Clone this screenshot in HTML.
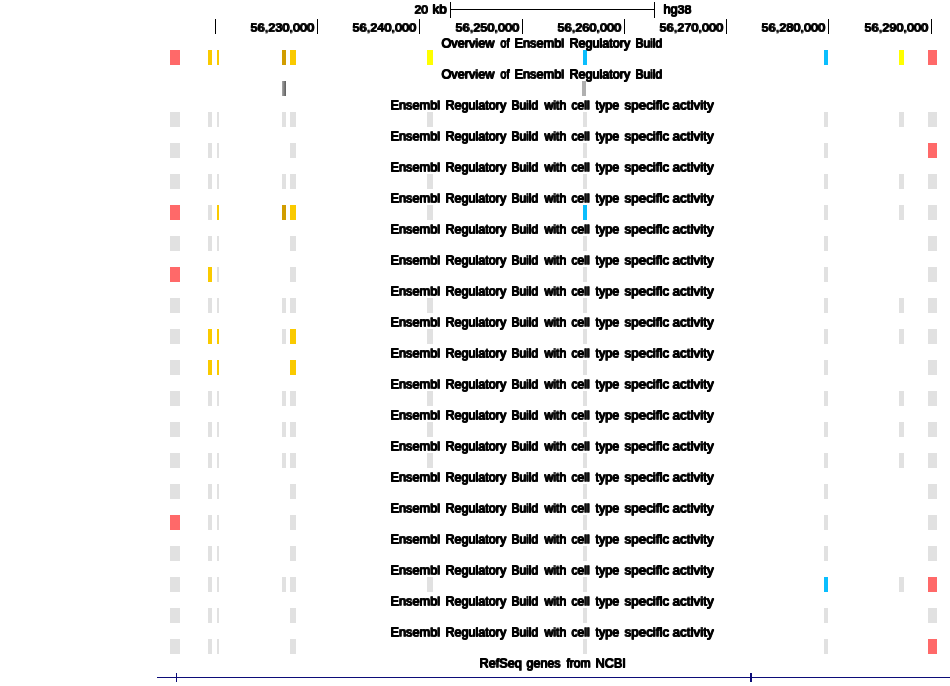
<!DOCTYPE html>
<html><head><meta charset="utf-8"><title>track</title>
<style>
html,body{margin:0;padding:0;background:#fff;}
body{width:950px;height:686px;position:relative;overflow:hidden;font-family:"Liberation Sans",sans-serif;color:#000;}
.b{position:absolute;height:15px;}
.w{position:absolute;white-space:nowrap;line-height:20px;height:20px;transform-origin:0 0;font-weight:normal;text-shadow:1.0px 0 0 #000,0 -1.0px 0 #000,1.0px -1.0px 0 #000;filter:grayscale(1);}
.k{position:absolute;width:1px;background:#000;}
.h{position:absolute;height:1px;background:#000;}

</style></head><body>
<div class="b" style="left:170px;width:10px;top:50px;background:#ff6969"></div>
<div class="b" style="left:208px;width:4px;top:50px;background:#faca00"></div>
<div class="b" style="left:217px;width:2px;top:50px;background:#faca00"></div>
<div class="b" style="left:282px;width:4px;top:50px;background:#d19d00"></div>
<div class="b" style="left:290px;width:6px;top:50px;background:#faca00"></div>
<div class="b" style="left:427px;width:6px;top:50px;background:#ffff00"></div>
<div class="b" style="left:583px;width:4px;top:50px;background:#0abefe"></div>
<div class="b" style="left:824px;width:4px;top:50px;background:#0abefe"></div>
<div class="b" style="left:899px;width:5px;top:50px;background:#ffff00"></div>
<div class="b" style="left:928px;width:9px;top:50px;background:#ff6969"></div>
<div class="b" style="left:282px;width:4px;top:81px;background:linear-gradient(90deg,#a8a8a8,#5c5c5c)"></div>
<div class="b" style="left:582px;width:4px;top:81px;background:#b0b0b0"></div>
<div class="b" style="left:170px;width:10px;top:112px;background:#e1e1e1"></div>
<div class="b" style="left:208px;width:4px;top:112px;background:#e1e1e1"></div>
<div class="b" style="left:217px;width:2px;top:112px;background:#e1e1e1"></div>
<div class="b" style="left:282px;width:4px;top:112px;background:#e1e1e1"></div>
<div class="b" style="left:290px;width:6px;top:112px;background:#e1e1e1"></div>
<div class="b" style="left:427px;width:6px;top:112px;background:#e1e1e1"></div>
<div class="b" style="left:583px;width:4px;top:112px;background:#e1e1e1"></div>
<div class="b" style="left:824px;width:4px;top:112px;background:#e1e1e1"></div>
<div class="b" style="left:899px;width:5px;top:112px;background:#e1e1e1"></div>
<div class="b" style="left:928px;width:9px;top:112px;background:#e1e1e1"></div>
<div class="b" style="left:170px;width:10px;top:143px;background:#e1e1e1"></div>
<div class="b" style="left:208px;width:4px;top:143px;background:#e1e1e1"></div>
<div class="b" style="left:217px;width:2px;top:143px;background:#e1e1e1"></div>
<div class="b" style="left:290px;width:6px;top:143px;background:#e1e1e1"></div>
<div class="b" style="left:583px;width:4px;top:143px;background:#e1e1e1"></div>
<div class="b" style="left:824px;width:4px;top:143px;background:#e1e1e1"></div>
<div class="b" style="left:928px;width:9px;top:143px;background:#ff6969"></div>
<div class="b" style="left:170px;width:10px;top:174px;background:#e1e1e1"></div>
<div class="b" style="left:208px;width:4px;top:174px;background:#e1e1e1"></div>
<div class="b" style="left:217px;width:2px;top:174px;background:#e1e1e1"></div>
<div class="b" style="left:282px;width:4px;top:174px;background:#e1e1e1"></div>
<div class="b" style="left:290px;width:6px;top:174px;background:#e1e1e1"></div>
<div class="b" style="left:427px;width:6px;top:174px;background:#e1e1e1"></div>
<div class="b" style="left:583px;width:4px;top:174px;background:#e1e1e1"></div>
<div class="b" style="left:824px;width:4px;top:174px;background:#e1e1e1"></div>
<div class="b" style="left:899px;width:5px;top:174px;background:#e1e1e1"></div>
<div class="b" style="left:928px;width:9px;top:174px;background:#e1e1e1"></div>
<div class="b" style="left:170px;width:10px;top:205px;background:#ff6969"></div>
<div class="b" style="left:208px;width:4px;top:205px;background:#e1e1e1"></div>
<div class="b" style="left:217px;width:2px;top:205px;background:#faca00"></div>
<div class="b" style="left:282px;width:4px;top:205px;background:#d19d00"></div>
<div class="b" style="left:290px;width:6px;top:205px;background:#faca00"></div>
<div class="b" style="left:427px;width:6px;top:205px;background:#e1e1e1"></div>
<div class="b" style="left:583px;width:4px;top:205px;background:#0abefe"></div>
<div class="b" style="left:824px;width:4px;top:205px;background:#e1e1e1"></div>
<div class="b" style="left:899px;width:5px;top:205px;background:#e1e1e1"></div>
<div class="b" style="left:928px;width:9px;top:205px;background:#e1e1e1"></div>
<div class="b" style="left:170px;width:10px;top:236px;background:#e1e1e1"></div>
<div class="b" style="left:208px;width:4px;top:236px;background:#e1e1e1"></div>
<div class="b" style="left:217px;width:2px;top:236px;background:#e1e1e1"></div>
<div class="b" style="left:290px;width:6px;top:236px;background:#e1e1e1"></div>
<div class="b" style="left:583px;width:4px;top:236px;background:#e1e1e1"></div>
<div class="b" style="left:824px;width:4px;top:236px;background:#e1e1e1"></div>
<div class="b" style="left:928px;width:9px;top:236px;background:#e1e1e1"></div>
<div class="b" style="left:170px;width:10px;top:267px;background:#ff6969"></div>
<div class="b" style="left:208px;width:4px;top:267px;background:#faca00"></div>
<div class="b" style="left:217px;width:2px;top:267px;background:#e1e1e1"></div>
<div class="b" style="left:290px;width:6px;top:267px;background:#e1e1e1"></div>
<div class="b" style="left:583px;width:4px;top:267px;background:#e1e1e1"></div>
<div class="b" style="left:824px;width:4px;top:267px;background:#e1e1e1"></div>
<div class="b" style="left:928px;width:9px;top:267px;background:#e1e1e1"></div>
<div class="b" style="left:170px;width:10px;top:298px;background:#e1e1e1"></div>
<div class="b" style="left:208px;width:4px;top:298px;background:#e1e1e1"></div>
<div class="b" style="left:217px;width:2px;top:298px;background:#e1e1e1"></div>
<div class="b" style="left:282px;width:4px;top:298px;background:#e1e1e1"></div>
<div class="b" style="left:290px;width:6px;top:298px;background:#e1e1e1"></div>
<div class="b" style="left:427px;width:6px;top:298px;background:#e1e1e1"></div>
<div class="b" style="left:583px;width:4px;top:298px;background:#e1e1e1"></div>
<div class="b" style="left:824px;width:4px;top:298px;background:#e1e1e1"></div>
<div class="b" style="left:899px;width:5px;top:298px;background:#e1e1e1"></div>
<div class="b" style="left:928px;width:9px;top:298px;background:#e1e1e1"></div>
<div class="b" style="left:170px;width:10px;top:329px;background:#e1e1e1"></div>
<div class="b" style="left:208px;width:4px;top:329px;background:#faca00"></div>
<div class="b" style="left:217px;width:2px;top:329px;background:#faca00"></div>
<div class="b" style="left:282px;width:4px;top:329px;background:#e1e1e1"></div>
<div class="b" style="left:290px;width:6px;top:329px;background:#faca00"></div>
<div class="b" style="left:427px;width:6px;top:329px;background:#e1e1e1"></div>
<div class="b" style="left:583px;width:4px;top:329px;background:#e1e1e1"></div>
<div class="b" style="left:824px;width:4px;top:329px;background:#e1e1e1"></div>
<div class="b" style="left:899px;width:5px;top:329px;background:#e1e1e1"></div>
<div class="b" style="left:928px;width:9px;top:329px;background:#e1e1e1"></div>
<div class="b" style="left:170px;width:10px;top:360px;background:#e1e1e1"></div>
<div class="b" style="left:208px;width:4px;top:360px;background:#faca00"></div>
<div class="b" style="left:217px;width:2px;top:360px;background:#faca00"></div>
<div class="b" style="left:290px;width:6px;top:360px;background:#faca00"></div>
<div class="b" style="left:583px;width:4px;top:360px;background:#e1e1e1"></div>
<div class="b" style="left:824px;width:4px;top:360px;background:#e1e1e1"></div>
<div class="b" style="left:928px;width:9px;top:360px;background:#e1e1e1"></div>
<div class="b" style="left:170px;width:10px;top:391px;background:#e1e1e1"></div>
<div class="b" style="left:208px;width:4px;top:391px;background:#e1e1e1"></div>
<div class="b" style="left:217px;width:2px;top:391px;background:#e1e1e1"></div>
<div class="b" style="left:282px;width:4px;top:391px;background:#e1e1e1"></div>
<div class="b" style="left:290px;width:6px;top:391px;background:#e1e1e1"></div>
<div class="b" style="left:427px;width:6px;top:391px;background:#e1e1e1"></div>
<div class="b" style="left:583px;width:4px;top:391px;background:#e1e1e1"></div>
<div class="b" style="left:824px;width:4px;top:391px;background:#e1e1e1"></div>
<div class="b" style="left:899px;width:5px;top:391px;background:#e1e1e1"></div>
<div class="b" style="left:928px;width:9px;top:391px;background:#e1e1e1"></div>
<div class="b" style="left:170px;width:10px;top:422px;background:#e1e1e1"></div>
<div class="b" style="left:208px;width:4px;top:422px;background:#e1e1e1"></div>
<div class="b" style="left:217px;width:2px;top:422px;background:#e1e1e1"></div>
<div class="b" style="left:282px;width:4px;top:422px;background:#e1e1e1"></div>
<div class="b" style="left:290px;width:6px;top:422px;background:#e1e1e1"></div>
<div class="b" style="left:427px;width:6px;top:422px;background:#e1e1e1"></div>
<div class="b" style="left:583px;width:4px;top:422px;background:#e1e1e1"></div>
<div class="b" style="left:824px;width:4px;top:422px;background:#e1e1e1"></div>
<div class="b" style="left:899px;width:5px;top:422px;background:#e1e1e1"></div>
<div class="b" style="left:928px;width:9px;top:422px;background:#e1e1e1"></div>
<div class="b" style="left:170px;width:10px;top:453px;background:#e1e1e1"></div>
<div class="b" style="left:208px;width:4px;top:453px;background:#e1e1e1"></div>
<div class="b" style="left:217px;width:2px;top:453px;background:#e1e1e1"></div>
<div class="b" style="left:282px;width:4px;top:453px;background:#e1e1e1"></div>
<div class="b" style="left:290px;width:6px;top:453px;background:#e1e1e1"></div>
<div class="b" style="left:427px;width:6px;top:453px;background:#e1e1e1"></div>
<div class="b" style="left:583px;width:4px;top:453px;background:#e1e1e1"></div>
<div class="b" style="left:824px;width:4px;top:453px;background:#e1e1e1"></div>
<div class="b" style="left:899px;width:5px;top:453px;background:#e1e1e1"></div>
<div class="b" style="left:928px;width:9px;top:453px;background:#e1e1e1"></div>
<div class="b" style="left:170px;width:10px;top:484px;background:#e1e1e1"></div>
<div class="b" style="left:208px;width:4px;top:484px;background:#e1e1e1"></div>
<div class="b" style="left:217px;width:2px;top:484px;background:#e1e1e1"></div>
<div class="b" style="left:290px;width:6px;top:484px;background:#e1e1e1"></div>
<div class="b" style="left:583px;width:4px;top:484px;background:#e1e1e1"></div>
<div class="b" style="left:824px;width:4px;top:484px;background:#e1e1e1"></div>
<div class="b" style="left:928px;width:9px;top:484px;background:#e1e1e1"></div>
<div class="b" style="left:170px;width:10px;top:515px;background:#ff6969"></div>
<div class="b" style="left:208px;width:4px;top:515px;background:#e1e1e1"></div>
<div class="b" style="left:217px;width:2px;top:515px;background:#e1e1e1"></div>
<div class="b" style="left:290px;width:6px;top:515px;background:#e1e1e1"></div>
<div class="b" style="left:583px;width:4px;top:515px;background:#e1e1e1"></div>
<div class="b" style="left:824px;width:4px;top:515px;background:#e1e1e1"></div>
<div class="b" style="left:928px;width:9px;top:515px;background:#e1e1e1"></div>
<div class="b" style="left:170px;width:10px;top:546px;background:#e1e1e1"></div>
<div class="b" style="left:208px;width:4px;top:546px;background:#e1e1e1"></div>
<div class="b" style="left:217px;width:2px;top:546px;background:#e1e1e1"></div>
<div class="b" style="left:290px;width:6px;top:546px;background:#e1e1e1"></div>
<div class="b" style="left:583px;width:4px;top:546px;background:#e1e1e1"></div>
<div class="b" style="left:824px;width:4px;top:546px;background:#e1e1e1"></div>
<div class="b" style="left:928px;width:9px;top:546px;background:#e1e1e1"></div>
<div class="b" style="left:170px;width:10px;top:577px;background:#e1e1e1"></div>
<div class="b" style="left:208px;width:4px;top:577px;background:#e1e1e1"></div>
<div class="b" style="left:217px;width:2px;top:577px;background:#e1e1e1"></div>
<div class="b" style="left:282px;width:4px;top:577px;background:#e1e1e1"></div>
<div class="b" style="left:290px;width:6px;top:577px;background:#e1e1e1"></div>
<div class="b" style="left:427px;width:6px;top:577px;background:#e1e1e1"></div>
<div class="b" style="left:583px;width:4px;top:577px;background:#e1e1e1"></div>
<div class="b" style="left:824px;width:4px;top:577px;background:#0abefe"></div>
<div class="b" style="left:899px;width:5px;top:577px;background:#e1e1e1"></div>
<div class="b" style="left:928px;width:9px;top:577px;background:#ff6969"></div>
<div class="b" style="left:170px;width:10px;top:608px;background:#e1e1e1"></div>
<div class="b" style="left:208px;width:4px;top:608px;background:#e1e1e1"></div>
<div class="b" style="left:217px;width:2px;top:608px;background:#e1e1e1"></div>
<div class="b" style="left:290px;width:6px;top:608px;background:#e1e1e1"></div>
<div class="b" style="left:583px;width:4px;top:608px;background:#e1e1e1"></div>
<div class="b" style="left:824px;width:4px;top:608px;background:#e1e1e1"></div>
<div class="b" style="left:928px;width:9px;top:608px;background:#e1e1e1"></div>
<div class="b" style="left:170px;width:10px;top:639px;background:#e1e1e1"></div>
<div class="b" style="left:208px;width:4px;top:639px;background:#e1e1e1"></div>
<div class="b" style="left:217px;width:2px;top:639px;background:#e1e1e1"></div>
<div class="b" style="left:290px;width:6px;top:639px;background:#e1e1e1"></div>
<div class="b" style="left:583px;width:4px;top:639px;background:#e1e1e1"></div>
<div class="b" style="left:824px;width:4px;top:639px;background:#e1e1e1"></div>
<div class="b" style="left:928px;width:9px;top:639px;background:#ff6969"></div>
<div class="k" style="left:450px;top:2px;height:16px"></div>
<div class="k" style="left:654px;top:2px;height:16px"></div>
<div class="h" style="left:450px;top:9px;width:205px"></div>
<div class="k" style="left:215px;top:19px;height:15px"></div>
<div class="k" style="left:317px;top:19px;height:15px"></div>
<div class="k" style="left:419px;top:19px;height:15px"></div>
<div class="k" style="left:522px;top:19px;height:15px"></div>
<div class="k" style="left:624px;top:19px;height:15px"></div>
<div class="k" style="left:726px;top:19px;height:15px"></div>
<div class="k" style="left:828px;top:19px;height:15px"></div>
<div class="k" style="left:931px;top:19px;height:15px"></div>
<div class="h" style="left:157px;top:677px;width:793px;background:#0c0c78"></div>
<div class="k" style="left:176px;top:673px;height:9px;background:#0c0c78"></div>
<div class="k" style="left:750px;top:673px;width:2px;height:9px;background:#0c0c78"></div>
<span class="w" style="left:441.00px;top:34.0px;font-size:13.08px;transform:scaleX(0.9701)">Overview</span>
<span class="w" style="left:499.50px;top:34.0px;font-size:13.08px;transform:scaleX(0.8333)">of</span>
<span class="w" style="left:514.02px;top:34.0px;font-size:13.08px;transform:scaleX(0.9760)">Ensembl</span>
<span class="w" style="left:569.04px;top:34.0px;font-size:13.08px;transform:scaleX(0.9606)">Regulatory</span>
<span class="w" style="left:635.28px;top:34.0px;font-size:13.08px;transform:scaleX(0.9163)">Build</span>
<span class="w" style="left:441.00px;top:65.0px;font-size:13.08px;transform:scaleX(0.9701)">Overview</span>
<span class="w" style="left:499.50px;top:65.0px;font-size:13.08px;transform:scaleX(0.8333)">of</span>
<span class="w" style="left:514.02px;top:65.0px;font-size:13.08px;transform:scaleX(0.9760)">Ensembl</span>
<span class="w" style="left:569.04px;top:65.0px;font-size:13.08px;transform:scaleX(0.9606)">Regulatory</span>
<span class="w" style="left:635.28px;top:65.0px;font-size:13.08px;transform:scaleX(0.9163)">Build</span>
<span class="w" style="left:389.92px;top:96.0px;font-size:13.08px;transform:scaleX(0.9760)">Ensembl</span>
<span class="w" style="left:444.94px;top:96.0px;font-size:13.08px;transform:scaleX(0.9606)">Regulatory</span>
<span class="w" style="left:511.18px;top:96.0px;font-size:13.08px;transform:scaleX(0.9163)">Build</span>
<span class="w" style="left:544.00px;top:96.0px;font-size:13.08px;transform:scaleX(0.9375)">with</span>
<span class="w" style="left:571.20px;top:96.0px;font-size:13.08px;transform:scaleX(0.9250)">cell</span>
<span class="w" style="left:595.30px;top:96.0px;font-size:13.08px;transform:scaleX(0.9577)">type</span>
<span class="w" style="left:623.62px;top:96.0px;font-size:13.08px;transform:scaleX(1.0256)">specific</span>
<span class="w" style="left:672.38px;top:96.0px;font-size:13.08px;transform:scaleX(1.0321)">activity</span>
<span class="w" style="left:389.92px;top:127.0px;font-size:13.08px;transform:scaleX(0.9760)">Ensembl</span>
<span class="w" style="left:444.94px;top:127.0px;font-size:13.08px;transform:scaleX(0.9606)">Regulatory</span>
<span class="w" style="left:511.18px;top:127.0px;font-size:13.08px;transform:scaleX(0.9163)">Build</span>
<span class="w" style="left:544.00px;top:127.0px;font-size:13.08px;transform:scaleX(0.9375)">with</span>
<span class="w" style="left:571.20px;top:127.0px;font-size:13.08px;transform:scaleX(0.9250)">cell</span>
<span class="w" style="left:595.30px;top:127.0px;font-size:13.08px;transform:scaleX(0.9577)">type</span>
<span class="w" style="left:623.62px;top:127.0px;font-size:13.08px;transform:scaleX(1.0256)">specific</span>
<span class="w" style="left:672.38px;top:127.0px;font-size:13.08px;transform:scaleX(1.0321)">activity</span>
<span class="w" style="left:389.92px;top:158.0px;font-size:13.08px;transform:scaleX(0.9760)">Ensembl</span>
<span class="w" style="left:444.94px;top:158.0px;font-size:13.08px;transform:scaleX(0.9606)">Regulatory</span>
<span class="w" style="left:511.18px;top:158.0px;font-size:13.08px;transform:scaleX(0.9163)">Build</span>
<span class="w" style="left:544.00px;top:158.0px;font-size:13.08px;transform:scaleX(0.9375)">with</span>
<span class="w" style="left:571.20px;top:158.0px;font-size:13.08px;transform:scaleX(0.9250)">cell</span>
<span class="w" style="left:595.30px;top:158.0px;font-size:13.08px;transform:scaleX(0.9577)">type</span>
<span class="w" style="left:623.62px;top:158.0px;font-size:13.08px;transform:scaleX(1.0256)">specific</span>
<span class="w" style="left:672.38px;top:158.0px;font-size:13.08px;transform:scaleX(1.0321)">activity</span>
<span class="w" style="left:389.92px;top:189.0px;font-size:13.08px;transform:scaleX(0.9760)">Ensembl</span>
<span class="w" style="left:444.94px;top:189.0px;font-size:13.08px;transform:scaleX(0.9606)">Regulatory</span>
<span class="w" style="left:511.18px;top:189.0px;font-size:13.08px;transform:scaleX(0.9163)">Build</span>
<span class="w" style="left:544.00px;top:189.0px;font-size:13.08px;transform:scaleX(0.9375)">with</span>
<span class="w" style="left:571.20px;top:189.0px;font-size:13.08px;transform:scaleX(0.9250)">cell</span>
<span class="w" style="left:595.30px;top:189.0px;font-size:13.08px;transform:scaleX(0.9577)">type</span>
<span class="w" style="left:623.62px;top:189.0px;font-size:13.08px;transform:scaleX(1.0256)">specific</span>
<span class="w" style="left:672.38px;top:189.0px;font-size:13.08px;transform:scaleX(1.0321)">activity</span>
<span class="w" style="left:389.92px;top:220.0px;font-size:13.08px;transform:scaleX(0.9760)">Ensembl</span>
<span class="w" style="left:444.94px;top:220.0px;font-size:13.08px;transform:scaleX(0.9606)">Regulatory</span>
<span class="w" style="left:511.18px;top:220.0px;font-size:13.08px;transform:scaleX(0.9163)">Build</span>
<span class="w" style="left:544.00px;top:220.0px;font-size:13.08px;transform:scaleX(0.9375)">with</span>
<span class="w" style="left:571.20px;top:220.0px;font-size:13.08px;transform:scaleX(0.9250)">cell</span>
<span class="w" style="left:595.30px;top:220.0px;font-size:13.08px;transform:scaleX(0.9577)">type</span>
<span class="w" style="left:623.62px;top:220.0px;font-size:13.08px;transform:scaleX(1.0256)">specific</span>
<span class="w" style="left:672.38px;top:220.0px;font-size:13.08px;transform:scaleX(1.0321)">activity</span>
<span class="w" style="left:389.92px;top:251.0px;font-size:13.08px;transform:scaleX(0.9760)">Ensembl</span>
<span class="w" style="left:444.94px;top:251.0px;font-size:13.08px;transform:scaleX(0.9606)">Regulatory</span>
<span class="w" style="left:511.18px;top:251.0px;font-size:13.08px;transform:scaleX(0.9163)">Build</span>
<span class="w" style="left:544.00px;top:251.0px;font-size:13.08px;transform:scaleX(0.9375)">with</span>
<span class="w" style="left:571.20px;top:251.0px;font-size:13.08px;transform:scaleX(0.9250)">cell</span>
<span class="w" style="left:595.30px;top:251.0px;font-size:13.08px;transform:scaleX(0.9577)">type</span>
<span class="w" style="left:623.62px;top:251.0px;font-size:13.08px;transform:scaleX(1.0256)">specific</span>
<span class="w" style="left:672.38px;top:251.0px;font-size:13.08px;transform:scaleX(1.0321)">activity</span>
<span class="w" style="left:389.92px;top:282.0px;font-size:13.08px;transform:scaleX(0.9760)">Ensembl</span>
<span class="w" style="left:444.94px;top:282.0px;font-size:13.08px;transform:scaleX(0.9606)">Regulatory</span>
<span class="w" style="left:511.18px;top:282.0px;font-size:13.08px;transform:scaleX(0.9163)">Build</span>
<span class="w" style="left:544.00px;top:282.0px;font-size:13.08px;transform:scaleX(0.9375)">with</span>
<span class="w" style="left:571.20px;top:282.0px;font-size:13.08px;transform:scaleX(0.9250)">cell</span>
<span class="w" style="left:595.30px;top:282.0px;font-size:13.08px;transform:scaleX(0.9577)">type</span>
<span class="w" style="left:623.62px;top:282.0px;font-size:13.08px;transform:scaleX(1.0256)">specific</span>
<span class="w" style="left:672.38px;top:282.0px;font-size:13.08px;transform:scaleX(1.0321)">activity</span>
<span class="w" style="left:389.92px;top:313.0px;font-size:13.08px;transform:scaleX(0.9760)">Ensembl</span>
<span class="w" style="left:444.94px;top:313.0px;font-size:13.08px;transform:scaleX(0.9606)">Regulatory</span>
<span class="w" style="left:511.18px;top:313.0px;font-size:13.08px;transform:scaleX(0.9163)">Build</span>
<span class="w" style="left:544.00px;top:313.0px;font-size:13.08px;transform:scaleX(0.9375)">with</span>
<span class="w" style="left:571.20px;top:313.0px;font-size:13.08px;transform:scaleX(0.9250)">cell</span>
<span class="w" style="left:595.30px;top:313.0px;font-size:13.08px;transform:scaleX(0.9577)">type</span>
<span class="w" style="left:623.62px;top:313.0px;font-size:13.08px;transform:scaleX(1.0256)">specific</span>
<span class="w" style="left:672.38px;top:313.0px;font-size:13.08px;transform:scaleX(1.0321)">activity</span>
<span class="w" style="left:389.92px;top:344.0px;font-size:13.08px;transform:scaleX(0.9760)">Ensembl</span>
<span class="w" style="left:444.94px;top:344.0px;font-size:13.08px;transform:scaleX(0.9606)">Regulatory</span>
<span class="w" style="left:511.18px;top:344.0px;font-size:13.08px;transform:scaleX(0.9163)">Build</span>
<span class="w" style="left:544.00px;top:344.0px;font-size:13.08px;transform:scaleX(0.9375)">with</span>
<span class="w" style="left:571.20px;top:344.0px;font-size:13.08px;transform:scaleX(0.9250)">cell</span>
<span class="w" style="left:595.30px;top:344.0px;font-size:13.08px;transform:scaleX(0.9577)">type</span>
<span class="w" style="left:623.62px;top:344.0px;font-size:13.08px;transform:scaleX(1.0256)">specific</span>
<span class="w" style="left:672.38px;top:344.0px;font-size:13.08px;transform:scaleX(1.0321)">activity</span>
<span class="w" style="left:389.92px;top:375.0px;font-size:13.08px;transform:scaleX(0.9760)">Ensembl</span>
<span class="w" style="left:444.94px;top:375.0px;font-size:13.08px;transform:scaleX(0.9606)">Regulatory</span>
<span class="w" style="left:511.18px;top:375.0px;font-size:13.08px;transform:scaleX(0.9163)">Build</span>
<span class="w" style="left:544.00px;top:375.0px;font-size:13.08px;transform:scaleX(0.9375)">with</span>
<span class="w" style="left:571.20px;top:375.0px;font-size:13.08px;transform:scaleX(0.9250)">cell</span>
<span class="w" style="left:595.30px;top:375.0px;font-size:13.08px;transform:scaleX(0.9577)">type</span>
<span class="w" style="left:623.62px;top:375.0px;font-size:13.08px;transform:scaleX(1.0256)">specific</span>
<span class="w" style="left:672.38px;top:375.0px;font-size:13.08px;transform:scaleX(1.0321)">activity</span>
<span class="w" style="left:389.92px;top:406.0px;font-size:13.08px;transform:scaleX(0.9760)">Ensembl</span>
<span class="w" style="left:444.94px;top:406.0px;font-size:13.08px;transform:scaleX(0.9606)">Regulatory</span>
<span class="w" style="left:511.18px;top:406.0px;font-size:13.08px;transform:scaleX(0.9163)">Build</span>
<span class="w" style="left:544.00px;top:406.0px;font-size:13.08px;transform:scaleX(0.9375)">with</span>
<span class="w" style="left:571.20px;top:406.0px;font-size:13.08px;transform:scaleX(0.9250)">cell</span>
<span class="w" style="left:595.30px;top:406.0px;font-size:13.08px;transform:scaleX(0.9577)">type</span>
<span class="w" style="left:623.62px;top:406.0px;font-size:13.08px;transform:scaleX(1.0256)">specific</span>
<span class="w" style="left:672.38px;top:406.0px;font-size:13.08px;transform:scaleX(1.0321)">activity</span>
<span class="w" style="left:389.92px;top:437.0px;font-size:13.08px;transform:scaleX(0.9760)">Ensembl</span>
<span class="w" style="left:444.94px;top:437.0px;font-size:13.08px;transform:scaleX(0.9606)">Regulatory</span>
<span class="w" style="left:511.18px;top:437.0px;font-size:13.08px;transform:scaleX(0.9163)">Build</span>
<span class="w" style="left:544.00px;top:437.0px;font-size:13.08px;transform:scaleX(0.9375)">with</span>
<span class="w" style="left:571.20px;top:437.0px;font-size:13.08px;transform:scaleX(0.9250)">cell</span>
<span class="w" style="left:595.30px;top:437.0px;font-size:13.08px;transform:scaleX(0.9577)">type</span>
<span class="w" style="left:623.62px;top:437.0px;font-size:13.08px;transform:scaleX(1.0256)">specific</span>
<span class="w" style="left:672.38px;top:437.0px;font-size:13.08px;transform:scaleX(1.0321)">activity</span>
<span class="w" style="left:389.92px;top:468.0px;font-size:13.08px;transform:scaleX(0.9760)">Ensembl</span>
<span class="w" style="left:444.94px;top:468.0px;font-size:13.08px;transform:scaleX(0.9606)">Regulatory</span>
<span class="w" style="left:511.18px;top:468.0px;font-size:13.08px;transform:scaleX(0.9163)">Build</span>
<span class="w" style="left:544.00px;top:468.0px;font-size:13.08px;transform:scaleX(0.9375)">with</span>
<span class="w" style="left:571.20px;top:468.0px;font-size:13.08px;transform:scaleX(0.9250)">cell</span>
<span class="w" style="left:595.30px;top:468.0px;font-size:13.08px;transform:scaleX(0.9577)">type</span>
<span class="w" style="left:623.62px;top:468.0px;font-size:13.08px;transform:scaleX(1.0256)">specific</span>
<span class="w" style="left:672.38px;top:468.0px;font-size:13.08px;transform:scaleX(1.0321)">activity</span>
<span class="w" style="left:389.92px;top:499.0px;font-size:13.08px;transform:scaleX(0.9760)">Ensembl</span>
<span class="w" style="left:444.94px;top:499.0px;font-size:13.08px;transform:scaleX(0.9606)">Regulatory</span>
<span class="w" style="left:511.18px;top:499.0px;font-size:13.08px;transform:scaleX(0.9163)">Build</span>
<span class="w" style="left:544.00px;top:499.0px;font-size:13.08px;transform:scaleX(0.9375)">with</span>
<span class="w" style="left:571.20px;top:499.0px;font-size:13.08px;transform:scaleX(0.9250)">cell</span>
<span class="w" style="left:595.30px;top:499.0px;font-size:13.08px;transform:scaleX(0.9577)">type</span>
<span class="w" style="left:623.62px;top:499.0px;font-size:13.08px;transform:scaleX(1.0256)">specific</span>
<span class="w" style="left:672.38px;top:499.0px;font-size:13.08px;transform:scaleX(1.0321)">activity</span>
<span class="w" style="left:389.92px;top:530.0px;font-size:13.08px;transform:scaleX(0.9760)">Ensembl</span>
<span class="w" style="left:444.94px;top:530.0px;font-size:13.08px;transform:scaleX(0.9606)">Regulatory</span>
<span class="w" style="left:511.18px;top:530.0px;font-size:13.08px;transform:scaleX(0.9163)">Build</span>
<span class="w" style="left:544.00px;top:530.0px;font-size:13.08px;transform:scaleX(0.9375)">with</span>
<span class="w" style="left:571.20px;top:530.0px;font-size:13.08px;transform:scaleX(0.9250)">cell</span>
<span class="w" style="left:595.30px;top:530.0px;font-size:13.08px;transform:scaleX(0.9577)">type</span>
<span class="w" style="left:623.62px;top:530.0px;font-size:13.08px;transform:scaleX(1.0256)">specific</span>
<span class="w" style="left:672.38px;top:530.0px;font-size:13.08px;transform:scaleX(1.0321)">activity</span>
<span class="w" style="left:389.92px;top:561.0px;font-size:13.08px;transform:scaleX(0.9760)">Ensembl</span>
<span class="w" style="left:444.94px;top:561.0px;font-size:13.08px;transform:scaleX(0.9606)">Regulatory</span>
<span class="w" style="left:511.18px;top:561.0px;font-size:13.08px;transform:scaleX(0.9163)">Build</span>
<span class="w" style="left:544.00px;top:561.0px;font-size:13.08px;transform:scaleX(0.9375)">with</span>
<span class="w" style="left:571.20px;top:561.0px;font-size:13.08px;transform:scaleX(0.9250)">cell</span>
<span class="w" style="left:595.30px;top:561.0px;font-size:13.08px;transform:scaleX(0.9577)">type</span>
<span class="w" style="left:623.62px;top:561.0px;font-size:13.08px;transform:scaleX(1.0256)">specific</span>
<span class="w" style="left:672.38px;top:561.0px;font-size:13.08px;transform:scaleX(1.0321)">activity</span>
<span class="w" style="left:389.92px;top:592.0px;font-size:13.08px;transform:scaleX(0.9760)">Ensembl</span>
<span class="w" style="left:444.94px;top:592.0px;font-size:13.08px;transform:scaleX(0.9606)">Regulatory</span>
<span class="w" style="left:511.18px;top:592.0px;font-size:13.08px;transform:scaleX(0.9163)">Build</span>
<span class="w" style="left:544.00px;top:592.0px;font-size:13.08px;transform:scaleX(0.9375)">with</span>
<span class="w" style="left:571.20px;top:592.0px;font-size:13.08px;transform:scaleX(0.9250)">cell</span>
<span class="w" style="left:595.30px;top:592.0px;font-size:13.08px;transform:scaleX(0.9577)">type</span>
<span class="w" style="left:623.62px;top:592.0px;font-size:13.08px;transform:scaleX(1.0256)">specific</span>
<span class="w" style="left:672.38px;top:592.0px;font-size:13.08px;transform:scaleX(1.0321)">activity</span>
<span class="w" style="left:389.92px;top:623.0px;font-size:13.08px;transform:scaleX(0.9760)">Ensembl</span>
<span class="w" style="left:444.94px;top:623.0px;font-size:13.08px;transform:scaleX(0.9606)">Regulatory</span>
<span class="w" style="left:511.18px;top:623.0px;font-size:13.08px;transform:scaleX(0.9163)">Build</span>
<span class="w" style="left:544.00px;top:623.0px;font-size:13.08px;transform:scaleX(0.9375)">with</span>
<span class="w" style="left:571.20px;top:623.0px;font-size:13.08px;transform:scaleX(0.9250)">cell</span>
<span class="w" style="left:595.30px;top:623.0px;font-size:13.08px;transform:scaleX(0.9577)">type</span>
<span class="w" style="left:623.62px;top:623.0px;font-size:13.08px;transform:scaleX(1.0256)">specific</span>
<span class="w" style="left:672.38px;top:623.0px;font-size:13.08px;transform:scaleX(1.0321)">activity</span>
<span class="w" style="left:479.23px;top:654.0px;font-size:13.08px;transform:scaleX(0.9721)">RefSeq</span>
<span class="w" style="left:525.90px;top:654.0px;font-size:13.08px;transform:scaleX(0.9577)">genes</span>
<span class="w" style="left:565.80px;top:654.0px;font-size:13.08px;transform:scaleX(0.9215)">from</span>
<span class="w" style="left:594.63px;top:654.0px;font-size:13.08px;transform:scaleX(0.9733)">NCBI</span>
<span class="w" style="left:250.30px;top:18.0px;font-size:11.63px;transform:scaleX(1.0932)">56,230,000</span>
<span class="w" style="left:352.30px;top:18.0px;font-size:11.63px;transform:scaleX(1.0932)">56,240,000</span>
<span class="w" style="left:455.30px;top:18.0px;font-size:11.63px;transform:scaleX(1.0932)">56,250,000</span>
<span class="w" style="left:557.30px;top:18.0px;font-size:11.63px;transform:scaleX(1.0932)">56,260,000</span>
<span class="w" style="left:659.30px;top:18.0px;font-size:11.63px;transform:scaleX(1.0932)">56,270,000</span>
<span class="w" style="left:761.30px;top:18.0px;font-size:11.63px;transform:scaleX(1.0932)">56,280,000</span>
<span class="w" style="left:864.30px;top:18.0px;font-size:11.63px;transform:scaleX(1.0932)">56,290,000</span>
<span class="w" style="left:414.29px;top:0.0px;font-size:11.63px;transform:scaleX(1.0504)">20</span>
<span class="w" style="left:432.21px;top:0.0px;font-size:13.08px;transform:scaleX(1.0351)">kb</span>
<span class="w" style="left:663.10px;top:0.0px;font-size:13.08px;transform:scaleX(0.9734)">hg</span>
<span class="w" style="left:677.19px;top:0.0px;font-size:11.63px;transform:scaleX(1.0647)">38</span>
</body></html>
